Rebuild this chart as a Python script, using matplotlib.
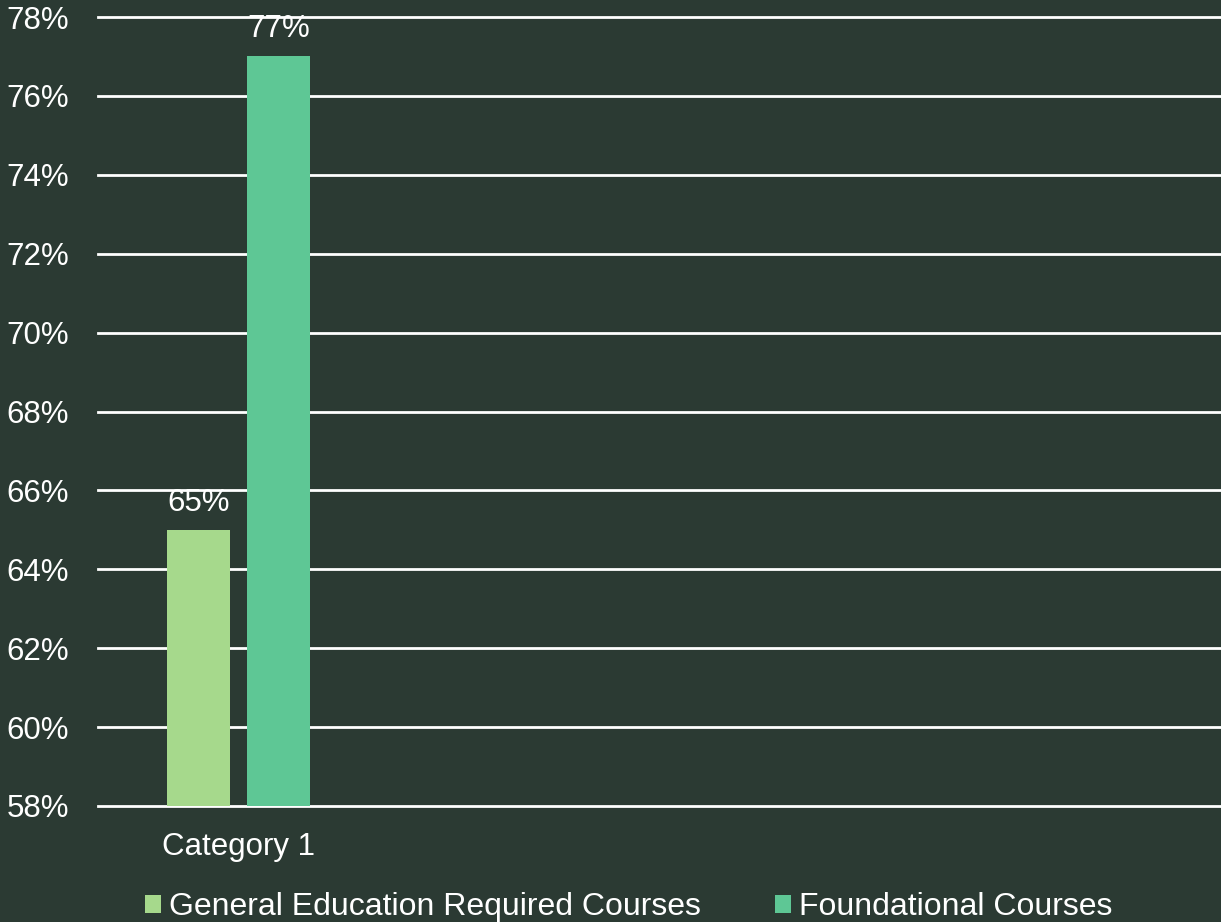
import matplotlib
matplotlib.use("Agg")
import matplotlib.pyplot as plt
from matplotlib.ticker import FuncFormatter, MultipleLocator
from matplotlib.patches import Patch

categories = ["Category 1"]
series_names = ["General Education Required Courses", "Foundational Courses"]
series_values = [[0.65], [0.77]]
colors = ["#A6D98C", "#5EC795"]
bg = "#2B3A33"

plt.rcParams['font.family'] = ['Liberation Sans', 'DejaVu Sans']
FS = 22.5

fig = plt.figure(figsize=(12.21, 9.22), dpi=100, facecolor=bg)
ax = fig.add_axes([98/1221, 1-806/922, 1-98/1221, (806-17)/922])
ax.set_facecolor(bg)

width = 0.224
offsets = [-0.1425, 0.1425]
for i, (name, vals) in enumerate(zip(series_names, series_values)):
    xs = [j + offsets[i] for j in range(len(categories))]
    bars = ax.bar(xs, vals, width=width, color=colors[i], zorder=3, label=name)
    for b, v in zip(bars, vals):
        ax.annotate(f"{round(v*100)}%", (b.get_x() + b.get_width()/2, v),
                    xytext=(0, 27), textcoords="offset pixels", ha="center", va="center",
                    color="white", fontsize=FS)

ax.set_xlim(-0.5, 3.5)
ax.set_ylim(0.58, 0.78)
ax.yaxis.set_major_locator(MultipleLocator(0.02))
ax.yaxis.set_major_formatter(FuncFormatter(lambda v, p: f"{round(v*100)}%"))
ax.grid(axis="y", color="white", linewidth=2, zorder=1)
for gl in ax.get_ygridlines():
    gl.set_clip_on(False)
ax.set_xticks(range(len(categories)))
ax.set_xticklabels(categories)
ax.tick_params(axis="both", length=0, colors="white", labelsize=FS)
ax.tick_params(axis="x", pad=19)
ax.tick_params(axis="y", pad=21)
for s in ax.spines.values():
    s.set_visible(False)

handles = [Patch(facecolor=c, edgecolor="none") for c in colors]
leg = fig.legend(handles, series_names, loc="center", bbox_to_anchor=(0.515, 1-907/922),
                 ncol=2, frameon=False, fontsize=23, labelcolor="white",
                 handlelength=0.5, handleheight=0.5, handletextpad=0.25, columnspacing=2.3)

fig.savefig("out.png", dpi=100, facecolor=bg)
